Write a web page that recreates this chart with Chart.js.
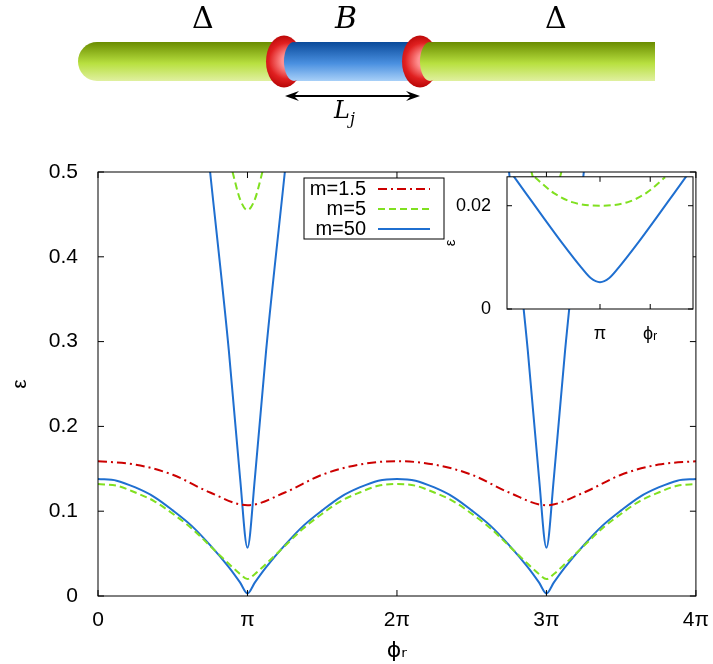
<!DOCTYPE html>
<html><head><meta charset="utf-8">
<script src="https://cdn.jsdelivr.net/npm/chart.js@4/dist/chart.umd.min.js"></script>
<style>
body{margin:0;background:#fff;width:713px;height:664px;position:relative;overflow:hidden;font-family:"Liberation Sans",Arial,sans-serif}
canvas{position:absolute}
.lab{position:absolute;font-family:"DejaVu Serif","Liberation Serif",serif;font-size:30px}
</style></head><body>
<canvas id="sketch" width="713" height="140" style="left:0;top:0"></canvas>
<div class="lab" style="left:192px;top:0px">Δ</div>
<div class="lab" style="left:335px;top:0px;font-style:italic">B</div>
<div class="lab" style="left:545px;top:0px">Δ</div>
<div class="lab" style="left:334px;top:96px;font-size:24px;font-style:italic">L<sub style="font-size:16px">j</sub></div>
<canvas id="main" style="left:0;top:140px;width:713px;height:524px"></canvas>
<canvas id="inset" style="left:440px;top:158px;width:262px;height:188px"></canvas>
<script>
// x values in units of pi
const xs15 = [0,0.25,0.5,0.75,1,1.25,1.5,1.75,2,2.25,2.5,2.75,3,3.25,3.5,3.75,4];
const m15 = [0.159,0.155,0.143,0.122,0.107,0.122,0.143,0.155,0.159,0.155,0.143,0.122,0.107,0.122,0.143,0.155,0.159];
const xsLow = [0,0.125,0.25,0.375,0.5,0.625,0.75,0.875,0.95,1,1.05,1.125,1.25,1.375,1.5,1.625,1.75,1.875,
  2,2.125,2.25,2.375,2.5,2.625,2.75,2.875,2.95,3,3.05,3.125,3.25,3.375,3.5,3.625,3.75,3.875,4];
const m5 = [0.132,0.130,0.122,0.112,0.097,0.080,0.059,0.038,0.026,0.020,0.026,0.038,0.059,0.080,0.097,0.112,0.122,0.130,
  0.132,0.130,0.122,0.112,0.097,0.080,0.059,0.038,0.026,0.020,0.026,0.038,0.059,0.080,0.097,0.112,0.122,0.130,0.132];
const m50 = [0.138,0.136,0.128,0.117,0.101,0.083,0.060,0.034,0.016,0.003,0.016,0.034,0.060,0.083,0.101,0.117,0.128,0.136,
  0.138,0.136,0.128,0.117,0.101,0.083,0.060,0.034,0.016,0.003,0.016,0.034,0.060,0.083,0.101,0.117,0.128,0.136,0.138];
const xsUp5 = [0.9,0.95,1,1.05,1.1];
const m5up = [0.5,0.468,0.455,0.468,0.5];
const xsUp50a = [0.75,0.875,0.95,1,1.05,1.125,1.25];
const xsUp50b = [2.75,2.875,2.95,3,3.05,3.125,3.25];
const m50up = [0.5,0.29,0.14,0.057,0.14,0.29,0.5];
const xTicks = [0,1,2,3,4];
const xTickLabels = ['0','π','2π','3π','4π'];
// inset
const insX5 = [0.93,0.95,0.97,1,1.03,1.05,1.07];
const ins5 = [0.0255,0.0225,0.0207,0.02,0.0207,0.0225,0.0255];
const insX50 = [0.9,0.92,0.94,0.96,0.98,0.99,1,1.01,1.02,1.04,1.06,1.08,1.1];
const ins50 = [0.0275,0.0225,0.0175,0.0126,0.008,0.006,0.0052,0.006,0.008,0.0126,0.0175,0.0225,0.0275];

const RED = '#cc0000', GREEN = '#80e020', BLUE = '#1f6fd0';
const pts = (xa, ya) => xa.map((x, i) => ({x, y: ya[i]}));

// schematic
(function(){
  const c = document.getElementById('sketch').getContext('2d');
  function rod(x0, x1, y0, y1, top, mid, bot){
    const g = c.createLinearGradient(0, y0, 0, y1);
    g.addColorStop(0, top); g.addColorStop(0.55, mid); g.addColorStop(1, bot);
    c.fillStyle = g; c.fillRect(x0, y0, x1 - x0, y1 - y0);
    return g;
  }
  const g1 = rod(97, 290, 42, 81, '#6a8c00', '#b8e040', '#e0f0a0');
  c.beginPath(); c.ellipse(97, 61.5, 19, 19.5, 0, Math.PI/2, Math.PI*1.5); c.fillStyle = g1; c.fill();
  rod(420, 655, 42, 81, '#6a8c00', '#b8e040', '#e0f0a0');
  rod(285, 420, 42, 81, '#0a4a9a', '#4a90e0', '#a8d0f8');
  function ring(x){
    const g = c.createRadialGradient(x + 6, 61, 8, x, 61, 28);
    g.addColorStop(0, '#ff9090'); g.addColorStop(0.5, '#e02020'); g.addColorStop(1, '#b00000');
    c.beginPath(); c.ellipse(x, 61.5, 18, 26, 0, 0, Math.PI*2); c.fillStyle = g; c.fill();
  }
  ring(284); ring(420);
  c.save(); c.beginPath(); c.ellipse(294, 61.5, 10, 19.5, 0, 0, Math.PI*2); c.clip();
  rod(280, 310, 42, 81, '#0a4a9a', '#4a90e0', '#a8d0f8'); c.restore();
  c.save(); c.beginPath(); c.ellipse(430, 61.5, 10, 19.5, 0, 0, Math.PI*2); c.clip();
  rod(415, 445, 42, 81, '#6a8c00', '#b8e040', '#e0f0a0'); c.restore();
  c.strokeStyle = '#000'; c.lineWidth = 2; c.fillStyle = '#000';
  c.beginPath(); c.moveTo(290, 96); c.lineTo(415, 96); c.stroke();
  [[285, 1], [420, -1]].forEach(([x, d]) => {
    c.beginPath(); c.moveTo(x, 96); c.lineTo(x + 14*d, 91); c.lineTo(x + 9*d, 96); c.lineTo(x + 14*d, 101); c.closePath(); c.fill();
  });
})();

const font = {family: '"Liberation Sans", Arial, sans-serif', size: 21};

const bg = {
  id: 'bg',
  beforeDatasetsDraw(ch, args, o) {
    if (!o.fill) return;
    const a = ch.chartArea;
    ch.ctx.save(); ch.ctx.fillStyle = '#fff';
    ch.ctx.fillRect(a.left, a.top, a.right - a.left, a.bottom - a.top); ch.ctx.restore();
  }
};

const frame = {
  id: 'frame',
  afterDraw(ch, args, o) {
    const c = ch.ctx, a = ch.chartArea;
    c.save(); c.strokeStyle = '#000'; c.lineWidth = 1;
    c.strokeRect(a.left, a.top, a.right - a.left, a.bottom - a.top);
    c.beginPath();
    ch.scales.x.ticks.forEach(t => { const p = ch.scales.x.getPixelForValue(t.value);
      c.moveTo(p, a.bottom); c.lineTo(p, a.bottom - o.len); c.moveTo(p, a.top); c.lineTo(p, a.top + o.len); });
    ch.scales.y.ticks.forEach(t => { const p = ch.scales.y.getPixelForValue(t.value);
      c.moveTo(a.left, p); c.lineTo(a.left + o.len, p); c.moveTo(a.right, p); c.lineTo(a.right - o.len, p); });
    c.stroke();
    if (o.legend) {
      const L = o.legend;
      c.fillStyle = '#fff'; c.fillRect(L.x, L.y, L.w, L.h); c.strokeRect(L.x, L.y, L.w, L.h);
      c.font = '20px "Liberation Sans", Arial, sans-serif'; c.textAlign = 'right'; c.textBaseline = 'middle';
      L.items.forEach((it, i) => {
        const y = L.y + 11 + i * 20;
        c.fillStyle = '#000'; c.fillText(it.label, L.x + 62, y);
        c.strokeStyle = it.color; c.lineWidth = 2; c.setLineDash(it.dash);
        c.beginPath(); c.moveTo(L.x + 74, y); c.lineTo(L.x + 126, y); c.stroke(); c.setLineDash([]);
      });
    }
    c.restore();
  }
};

const line = (data, color, dash) => ({data, borderColor: color, borderWidth: 2, borderDash: dash, pointRadius: 0,
  showLine: true, cubicInterpolationMode: 'monotone', fill: false});

new Chart(document.getElementById('main'), {
  type: 'scatter',
  data: {datasets: [
    line(pts(xs15, m15), RED, [9, 4, 2, 4]),
    line(pts(xsLow, m5), GREEN, [7, 4]),
    line(pts(xsLow, m50), BLUE, []),
    line(pts(xsUp5, m5up), GREEN, [7, 4]),
    line(pts(xsUp5.map(x => x + 2), m5up), GREEN, [7, 4]),
    line(pts(xsUp50a, m50up), BLUE, []),
    line(pts(xsUp50b, m50up), BLUE, [])
  ]},
  options: {
    responsive: false, animation: false, devicePixelRatio: 1,
    layout: {padding: {top: 32, right: 13}},
    plugins: {legend: {display: false}, tooltip: {enabled: false},
      frame: {len: 6, legend: {x: 304, y: 38, w: 140, h: 61, items: [
        {label: 'm=1.5', color: RED, dash: [9, 4, 2, 4]},
        {label: 'm=5', color: GREEN, dash: [7, 4]},
        {label: 'm=50', color: BLUE, dash: []}]}}},
    scales: {
      x: {type: 'linear', min: 0, max: 4, border: {display: false}, grid: {display: false},
        afterBuildTicks: s => { s.ticks = xTicks.map(v => ({value: v})); },
        afterFit: s => { s.height = 68; },
        ticks: {color: '#000', font, padding: 4, callback: v => xTickLabels[xTicks.indexOf(v)]},
        title: {display: true, text: 'ϕᵣ', color: '#000', font: {...font, size: 22, family: '"DejaVu Sans", sans-serif'}, padding: 0}},
      y: {min: 0, max: 0.5, border: {display: false}, grid: {display: false},
        afterFit: s => { s.width = 98; },
        ticks: {color: '#000', font, stepSize: 0.1, padding: 12, callback: v => v === 0 ? '0' : v.toFixed(1)},
        title: {display: true, text: 'ε', color: '#000', font: {...font, size: 21}, padding: 8}}
    }
  },
  plugins: [frame]
});

new Chart(document.getElementById('inset'), {
  type: 'scatter',
  data: {datasets: [
    line(pts(insX5, ins5), GREEN, [7, 4]),
    line(pts(insX50, ins50), BLUE, [])
  ]},
  options: {
    responsive: false, animation: false, devicePixelRatio: 1,
    layout: {padding: {top: 6, right: 9}},
    plugins: {legend: {display: false}, tooltip: {enabled: false}, frame: {len: 5}, bg: {fill: true}},
    scales: {
      x: {type: 'linear', min: 0.9, max: 1.1, border: {display: false}, grid: {display: false},
        afterBuildTicks: s => { s.ticks = [{value: 1}, {value: 1.054}]; },
        afterFit: s => { s.height = 37; },
        ticks: {color: '#000', font: {...font, size: 18}, padding: 6, callback: v => v === 1 ? 'π' : 'ϕᵣ'}},
      y: {min: 0, max: 0.0256, border: {display: false}, grid: {display: false},
        afterBuildTicks: s => { s.ticks = [{value: 0}, {value: 0.02}]; },
        afterFit: s => { s.width = 67; },
        ticks: {color: '#000', font: {...font, size: 18}, padding: 8, callback: v => v === 0 ? '0' : '0.02'},
        title: {display: true, text: 'ε', color: '#000', font: {...font, size: 15}, padding: 2}}
    }
  },
  plugins: [bg, frame]
});
</script>
</body></html>
